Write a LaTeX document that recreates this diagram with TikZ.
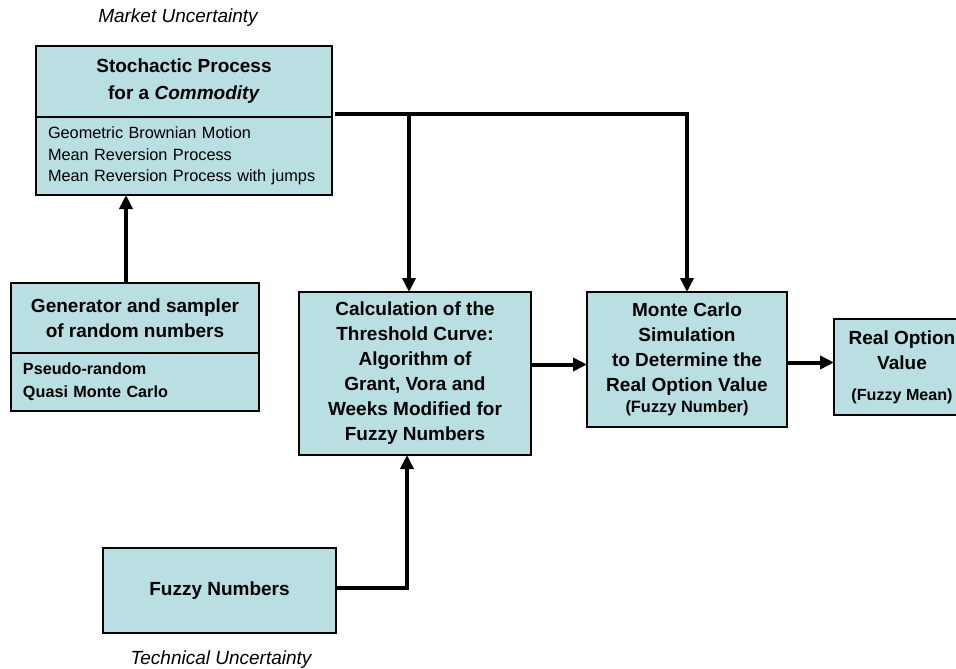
\documentclass[tikz,border=0pt]{standalone}
\usepackage{fontspec}
\setmainfont{Liberation Sans}
\usetikzlibrary{positioning,arrows.meta}
\definecolor{boxfill}{RGB}{185,223,227}

\begin{document}
\begin{tikzpicture}[x=1pt,y=-1pt,
	box/.style={draw, line width=2.4pt, fill=boxfill, inner sep=0pt, outer sep=0pt, align=center, font=\bfseries\fontsize{19}{25}\selectfont},
	listbox/.style={box, align=left, inner xsep=12pt, font=\fontsize{16.3}{21.5}\selectfont},
	link/.style={line width=4pt},
	arr/.style={link, -{Triangle[length=14pt,width=13pt]}},
	uncert/.style={font=\itshape\fontsize{19}{23}\selectfont}]

	\clip (0,0) rectangle (956,669);

	% market side
	\node [uncert] (market) at (178,18) {Market Uncertainty};
	\node [box, minimum width=296pt, minimum height=71pt, font=\bfseries\fontsize{19}{27}\selectfont] (stoch) at (184,81.5) {Stochactic Process\\for a \textit{Commodity}};
	\node [listbox, text width=272pt, minimum height=78pt, below=0pt of stoch] (stochlist) {Geometric Brownian Motion\\Mean Reversion Process\\Mean Reversion Process with jumps};

	\node [box, minimum width=248pt, minimum height=70pt] (gen) at (135,318) {Generator and sampler\\of random numbers};
	\node [listbox, text width=224pt, minimum height=58pt, font=\bfseries\fontsize{16.2}{23}\selectfont, below=0pt of gen] (genlist) {Pseudo-random\\Quasi Monte Carlo};

	% valuation chain
	\node [box, minimum width=232pt, minimum height=163pt] (calc) at (415,373.5) {Calculation of the\\Threshold Curve:\\Algorithm of\\Grant, Vora and\\Weeks Modified for\\Fuzzy Numbers};
	\node [box, minimum width=200pt, minimum height=135pt] (mc) at (687,359.5) {Monte Carlo\\Simulation\\to Determine the\\Real Option Value\\[-4pt]{\fontsize{16.4}{21}\selectfont (Fuzzy Number)}};
	\node [box, minimum width=136pt, minimum height=96pt] (rov) at (902,367) {Real Option\\Value\\[6pt]{\fontsize{16.1}{21}\selectfont (Fuzzy Mean)}};

	% technical side
	\node [box, minimum width=233pt, minimum height=85pt] (fuzzy) at (219.5,590.5) {Fuzzy Numbers};
	\node [uncert] (technical) at (221,660) {Technical Uncertainty};

	% connectors
	\coordinate (bus) at ([xshift=3pt,yshift=3pt]stoch.south east);
	\draw [arr] ([xshift=-9pt]gen.north) -- ([xshift=-9pt]gen.north |- stochlist.south);
	\draw [arr] (bus) -| (mc.north);
	\draw [arr] ([xshift=-6pt]calc.north |- bus) -- ([xshift=-6pt]calc.north);
	\draw [arr] ([yshift=9pt]calc.east) -- ([yshift=9pt]calc.east -| mc.west);
	\draw [arr] ([yshift=-3pt]mc.east) -- ([yshift=-3pt]mc.east -| rov.west);
	\draw [arr] ([yshift=3pt]fuzzy.east) -| ([xshift=-8pt]calc.south);

\end{tikzpicture}
\end{document}
